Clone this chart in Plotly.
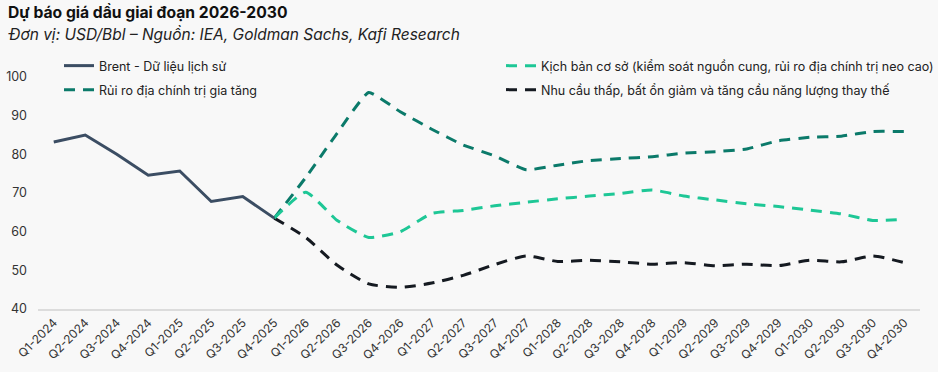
import plotly.graph_objects as go

categories = ["Q1-2024","Q2-2024","Q3-2024","Q4-2024","Q1-2025","Q2-2025","Q3-2025","Q4-2025",
              "Q1-2026","Q2-2026","Q3-2026","Q4-2026","Q1-2027","Q2-2027","Q3-2027","Q4-2027",
              "Q1-2028","Q2-2028","Q3-2028","Q4-2028","Q1-2029","Q2-2029","Q3-2029","Q4-2029",
              "Q1-2030","Q2-2030","Q3-2030","Q4-2030"]

brent = [83.2, 85.0, 80.0, 74.6, 75.7, 67.8, 69.1, 63.5]
risk = [63.5, 74.0, 85.5, 96.0, 91.0, 86.5, 82.4, 79.6, 76.0, 77.2, 78.4, 78.9, 79.4, 80.3, 80.7, 81.4, 83.5, 84.4, 84.7, 85.9, 85.9]
base = [63.5, 70.2, 62.9, 58.5, 60.0, 64.7, 65.5, 66.7, 67.6, 68.5, 69.2, 69.9, 70.8, 69.2, 68.2, 67.2, 66.5, 65.6, 64.6, 62.9, 63.2]
low = [63.5, 58.5, 51.3, 46.5, 45.6, 46.7, 48.7, 51.5, 53.7, 52.3, 52.6, 52.2, 51.6, 52.0, 51.2, 51.6, 51.2, 52.6, 52.2, 53.7, 52.0]

names = ["Brent - Dữ liệu lịch sử",
         "Kịch bản cơ sở (kiểm soát nguồn cung, rủi ro địa chính trị neo cao)",
         "Rủi ro địa chính trị gia tăng",
         "Nhu cầu thấp, bất ổn giảm và tăng cầu năng lượng thay thế"]
colors = ["#3b4d63", "#1ec796", "#0b7a6a", "#151a21"]

title_text = "<b>Dự báo giá dầu giai đoạn 2026-2030</b>"
subtitle_text = "<i>Đơn vị: USD/Bbl – Nguồn: IEA, Goldman Sachs, Kafi Research</i>"
y_ticks = [40, 50, 60, 70, 80, 90, 100]

FONT = "Inter, Roboto, sans-serif"
fc = categories[7:]
dash = "11px,8px"

fig = go.Figure()
fig.add_trace(go.Scatter(x=fc, y=risk, name=names[2], mode="lines", legend="legend3", showlegend=True,
                         line=dict(color=colors[2], width=3, dash=dash, shape="spline", smoothing=0.4)))
fig.add_trace(go.Scatter(x=fc, y=low, name=names[3], mode="lines", legend="legend4", showlegend=True,
                         line=dict(color=colors[3], width=3, dash=dash, shape="spline", smoothing=0.6)))
fig.add_trace(go.Scatter(x=fc, y=base, name=names[1], mode="lines", legend="legend2", showlegend=True,
                         line=dict(color=colors[1], width=3, dash=dash, shape="spline", smoothing=0.5)))
fig.add_trace(go.Scatter(x=categories[:8], y=brent, name=names[0], mode="lines", legend="legend", showlegend=True,
                         line=dict(color=colors[0], width=3)))

bg = "#f8f8f8"
PW, PH, L, T = 882, 232, 38, 77


def px_x(p):
    return (p - L) / PW


def px_y(p):
    return (T + PH - p) / PH


def leg(xp, yp):
    return dict(orientation="h", xanchor="left", yanchor="middle", bgcolor="rgba(0,0,0,0)",
                font=dict(family=FONT, size=12.5, color="#222"), x=px_x(xp), y=px_y(yp),
                visible=True)


fig.update_layout(
    width=938, height=372,
    showlegend=True,
    paper_bgcolor=bg, plot_bgcolor=bg,
    margin=dict(l=L, r=18, t=T, b=63, autoexpand=False),
    font=dict(family=FONT, size=12.5, color="#333"),
    legend=leg(59, 66),
    legend2=leg(501, 66),
    legend3=leg(59, 90),
    legend4=leg(501, 90),
    xaxis=dict(type="category", categoryorder="array", categoryarray=categories,
               range=[-0.5, 27.5], tickangle=-45, showgrid=False, showline=True,
               linecolor="#dcdcdc", linewidth=2, ticks="", tickfont=dict(size=12, color="#333"),
               fixedrange=True, automargin=False),
    yaxis=dict(range=[40, 100], tickvals=y_ticks, showgrid=False, zeroline=False,
               showline=False, ticks="", tickfont=dict(size=12.5, color="#333"),
               ticklabelstandoff=10, fixedrange=True, automargin=False),
)
fig.add_annotation(text=title_text, xref="paper", yref="paper", x=px_x(6), y=px_y(12),
                   xanchor="left", yanchor="middle", showarrow=False,
                   font=dict(family=FONT, size=15.7, color="#111"))
fig.add_annotation(text=subtitle_text, xref="paper", yref="paper", x=px_x(6), y=px_y(35),
                   xanchor="left", yanchor="middle", showarrow=False,
                   font=dict(family=FONT, size=15.5, color="#222"))

fig.write_html("out.html", config={"displayModeBar": False},
               post_script="document.body.style.margin='0';")
